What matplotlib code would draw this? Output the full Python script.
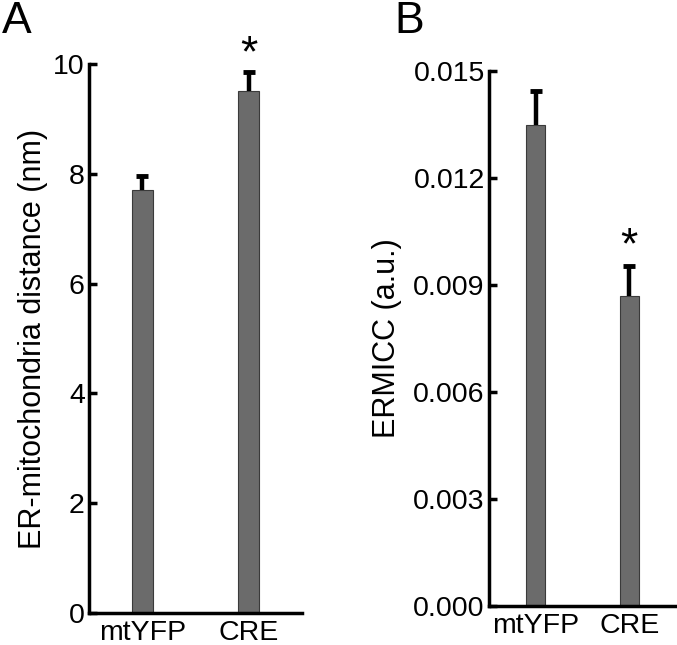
import matplotlib
matplotlib.use("Agg")
import matplotlib.pyplot as plt

plt.rcParams['font.family'] = ['Liberation Sans', 'DejaVu Sans']

# ---------------------- DATA ----------------------
groups = ["mtYFP", "CRE"]
distance_mean = [7.7, 9.5]
distance_err = [0.26, 0.36]
ermicc_mean = [0.01349, 0.00869]
ermicc_err = [0.00095, 0.00084]
distance_ticks = [0, 2, 4, 6, 8, 10]
ermicc_ticks = [0.000, 0.003, 0.006, 0.009, 0.012, 0.015]
signif = [False, True]

# ---------------------- STYLE ----------------------
bar_color = "#6b6b6b"
fs = 20.5

fig = plt.figure(figsize=(6.77, 6.45), dpi=100)
axA = fig.add_axes([0.1315, 0.0496, 0.3145, 0.8512])
axB = fig.add_axes([0.7223, 0.0605, 0.2762, 0.8295])


def draw_panel(ax, means, errs, ticks, fmt, ylabel, star_off, labelpad):
    x = list(range(len(groups)))
    tops = [m + e for m, e in zip(means, errs)]
    ax.bar(x, means, width=0.2, color=bar_color, edgecolor="#3a3a3a",
           linewidth=0.8, zorder=2)
    # upper error bar only, single cap on top
    ax.vlines(x, means, tops, color="black", linewidth=3.2, zorder=3)
    ax.plot(x, tops, linestyle="none", marker="_", markersize=9,
            markeredgewidth=3.5, color="black", zorder=3)
    for xi, t, s in zip(x, tops, signif):
        if s:
            ax.annotate("*", (xi, t), xytext=(0, star_off),
                        textcoords="offset points", ha="center", va="center",
                        fontsize=32, annotation_clip=False)
    ax.set_xlim(-0.5, 1.5)
    ax.set_ylim(ticks[0], ticks[-1])
    ax.set_yticks(ticks)
    ax.set_yticklabels([fmt.format(t) for t in ticks], fontsize=fs)
    ax.set_xticks(x)
    ax.set_xticklabels(groups, fontsize=fs)
    ax.tick_params(axis="y", direction="in", length=6, width=2.5, pad=3)
    ax.tick_params(axis="x", length=0, pad=5)
    ax.spines["top"].set_visible(False)
    ax.spines["right"].set_visible(False)
    for sp in ("left", "bottom"):
        ax.spines[sp].set_linewidth(2.5)
    ax.set_ylabel(ylabel, fontsize=fs + 1.5, labelpad=labelpad)


draw_panel(axA, distance_mean, distance_err, distance_ticks, "{:g}",
           "ER-mitochondria distance (nm)", 12, 4)
draw_panel(axB, ermicc_mean, ermicc_err, ermicc_ticks, "{:.3f}",
           "ERMICC (a.u.)", 14, 8)

fig.text(0.003, 0.998, "A", fontsize=32, ha="left", va="top")
fig.text(0.582, 0.998, "B", fontsize=32, ha="left", va="top")

fig.savefig("out.png", dpi=100)
